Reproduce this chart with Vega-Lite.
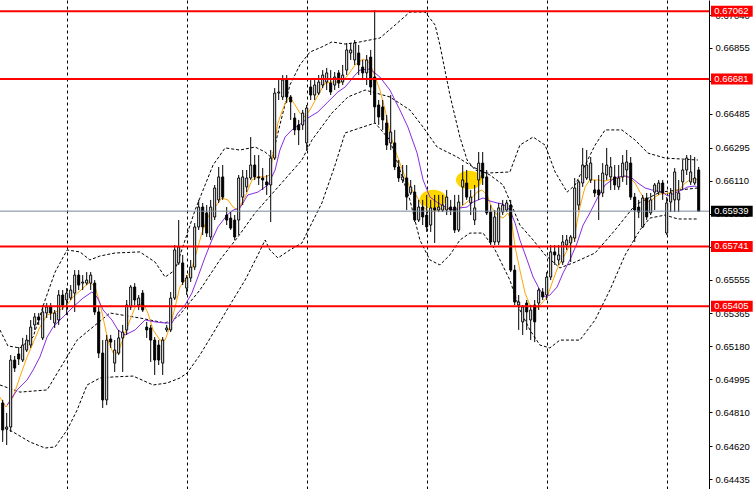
{
"$schema":"https://vega.github.io/schema/vega-lite/v6.json",
"width":709,"height":489,
"autosize":{"type":"none"},
"padding":{"left":0,"top":0,"right":46,"bottom":0},
"background":"white",
"config":{"view":{"stroke":null},"axis":{"labelOverlap":false,"labelBound":false,"labelFlush":false}},
"resolve":{"axis":{"x":"independent","y":"independent"}},
"datasets":{
"candles":[
{"i":0,"o":0.64862,"h":0.64879,"l":0.64643,"c":0.64710},
{"i":1,"o":0.64716,"h":0.64806,"l":0.64626,"c":0.64727},
{"i":2,"o":0.64727,"h":0.65131,"l":0.64699,"c":0.65103},
{"i":3,"o":0.65103,"h":0.65126,"l":0.65036,"c":0.65058},
{"i":4,"o":0.65137,"h":0.65176,"l":0.65075,"c":0.65109},
{"i":5,"o":0.65103,"h":0.65227,"l":0.65092,"c":0.65187},
{"i":6,"o":0.65159,"h":0.65244,"l":0.65148,"c":0.65215},
{"i":7,"o":0.65187,"h":0.65328,"l":0.65171,"c":0.65288},
{"i":8,"o":0.65300,"h":0.65367,"l":0.65272,"c":0.65345},
{"i":9,"o":0.65345,"h":0.65367,"l":0.65300,"c":0.65328},
{"i":10,"o":0.65227,"h":0.65412,"l":0.65215,"c":0.65373},
{"i":11,"o":0.65367,"h":0.65423,"l":0.65339,"c":0.65401},
{"i":12,"o":0.65401,"h":0.65423,"l":0.65328,"c":0.65367},
{"i":13,"o":0.65311,"h":0.65384,"l":0.65283,"c":0.65367},
{"i":14,"o":0.65328,"h":0.65496,"l":0.65300,"c":0.65468},
{"i":15,"o":0.65468,"h":0.65496,"l":0.65384,"c":0.65412},
{"i":16,"o":0.65440,"h":0.65507,"l":0.65356,"c":0.65479},
{"i":17,"o":0.65451,"h":0.65524,"l":0.65440,"c":0.65496},
{"i":18,"o":0.65479,"h":0.65608,"l":0.65373,"c":0.65580},
{"i":19,"o":0.65580,"h":0.65608,"l":0.65496,"c":0.65524},
{"i":20,"o":0.65535,"h":0.65580,"l":0.65496,"c":0.65541},
{"i":21,"o":0.65535,"h":0.65597,"l":0.65524,"c":0.65552},
{"i":22,"o":0.65535,"h":0.65597,"l":0.65496,"c":0.65580},
{"i":23,"o":0.65535,"h":0.65552,"l":0.65356,"c":0.65373},
{"i":24,"o":0.65373,"h":0.65401,"l":0.65114,"c":0.65142},
{"i":25,"o":0.65142,"h":0.65215,"l":0.64834,"c":0.64879},
{"i":26,"o":0.64879,"h":0.65244,"l":0.64850,"c":0.65215},
{"i":27,"o":0.65221,"h":0.65244,"l":0.65171,"c":0.65204},
{"i":28,"o":0.65086,"h":0.65215,"l":0.65036,"c":0.65159},
{"i":29,"o":0.65142,"h":0.65272,"l":0.65131,"c":0.65227},
{"i":30,"o":0.65227,"h":0.65300,"l":0.65036,"c":0.65260},
{"i":31,"o":0.65272,"h":0.65440,"l":0.65244,"c":0.65412},
{"i":32,"o":0.65401,"h":0.65524,"l":0.65384,"c":0.65513},
{"i":33,"o":0.65513,"h":0.65535,"l":0.65412,"c":0.65440},
{"i":34,"o":0.65412,"h":0.65468,"l":0.65384,"c":0.65451},
{"i":35,"o":0.65479,"h":0.65496,"l":0.65373,"c":0.65384},
{"i":36,"o":0.65288,"h":0.65317,"l":0.65227,"c":0.65272},
{"i":37,"o":0.65283,"h":0.65300,"l":0.65092,"c":0.65215},
{"i":38,"o":0.65215,"h":0.65232,"l":0.65019,"c":0.65103},
{"i":39,"o":0.65187,"h":0.65215,"l":0.65075,"c":0.65103},
{"i":40,"o":0.65086,"h":0.65232,"l":0.65019,"c":0.65215},
{"i":41,"o":0.65272,"h":0.65300,"l":0.65260,"c":0.65283},
{"i":42,"o":0.65272,"h":0.65485,"l":0.65260,"c":0.65451},
{"i":43,"o":0.65451,"h":0.65749,"l":0.65440,"c":0.65721},
{"i":44,"o":0.65648,"h":0.65889,"l":0.65637,"c":0.65738},
{"i":45,"o":0.65648,"h":0.65693,"l":0.65524,"c":0.65541},
{"i":46,"o":0.65507,"h":0.65580,"l":0.65468,"c":0.65564},
{"i":47,"o":0.65564,"h":0.65665,"l":0.65541,"c":0.65625},
{"i":48,"o":0.65625,"h":0.65872,"l":0.65608,"c":0.65850},
{"i":49,"o":0.65850,"h":0.66002,"l":0.65833,"c":0.65962},
{"i":50,"o":0.65962,"h":0.65985,"l":0.65805,"c":0.65850},
{"i":51,"o":0.65929,"h":0.65973,"l":0.65794,"c":0.65816},
{"i":52,"o":0.65794,"h":0.66002,"l":0.65777,"c":0.65962},
{"i":53,"o":0.65906,"h":0.66086,"l":0.65889,"c":0.66069},
{"i":54,"o":0.66002,"h":0.66187,"l":0.65985,"c":0.66131},
{"i":55,"o":0.66131,"h":0.66198,"l":0.66002,"c":0.66018},
{"i":56,"o":0.65917,"h":0.65962,"l":0.65861,"c":0.65889},
{"i":57,"o":0.65900,"h":0.65934,"l":0.65833,"c":0.65844},
{"i":58,"o":0.65889,"h":0.65917,"l":0.65777,"c":0.65794},
{"i":59,"o":0.65889,"h":0.66142,"l":0.65805,"c":0.66125},
{"i":60,"o":0.66018,"h":0.66170,"l":0.65973,"c":0.66131},
{"i":61,"o":0.66075,"h":0.66170,"l":0.66046,"c":0.66125},
{"i":62,"o":0.66125,"h":0.66355,"l":0.66114,"c":0.66198},
{"i":63,"o":0.66198,"h":0.66254,"l":0.66114,"c":0.66131},
{"i":64,"o":0.66131,"h":0.66254,"l":0.66086,"c":0.66125},
{"i":65,"o":0.66125,"h":0.66181,"l":0.66058,"c":0.66114},
{"i":66,"o":0.66103,"h":0.66142,"l":0.66030,"c":0.66086},
{"i":67,"o":0.66086,"h":0.66282,"l":0.65878,"c":0.66237},
{"i":68,"o":0.66237,"h":0.66630,"l":0.66226,"c":0.66602},
{"i":69,"o":0.66602,"h":0.66675,"l":0.66563,"c":0.66608},
{"i":70,"o":0.66580,"h":0.66703,"l":0.66563,"c":0.66675},
{"i":71,"o":0.66675,"h":0.66703,"l":0.66546,"c":0.66580},
{"i":72,"o":0.66580,"h":0.66591,"l":0.66451,"c":0.66552},
{"i":73,"o":0.66462,"h":0.66490,"l":0.66366,"c":0.66395},
{"i":74,"o":0.66423,"h":0.66451,"l":0.66310,"c":0.66395},
{"i":75,"o":0.66423,"h":0.66507,"l":0.66395,"c":0.66490},
{"i":76,"o":0.66322,"h":0.66535,"l":0.66282,"c":0.66518},
{"i":77,"o":0.66636,"h":0.66675,"l":0.66563,"c":0.66591},
{"i":78,"o":0.66591,"h":0.66675,"l":0.66563,"c":0.66647},
{"i":79,"o":0.66602,"h":0.66703,"l":0.66591,"c":0.66664},
{"i":80,"o":0.66647,"h":0.66731,"l":0.66630,"c":0.66703},
{"i":81,"o":0.66664,"h":0.66743,"l":0.66619,"c":0.66715},
{"i":82,"o":0.66658,"h":0.66731,"l":0.66591,"c":0.66608},
{"i":83,"o":0.66647,"h":0.66720,"l":0.66619,"c":0.66692},
{"i":84,"o":0.66715,"h":0.66731,"l":0.66630,"c":0.66658},
{"i":85,"o":0.66664,"h":0.66760,"l":0.66647,"c":0.66703},
{"i":86,"o":0.66731,"h":0.66883,"l":0.66703,"c":0.66844},
{"i":87,"o":0.66827,"h":0.66883,"l":0.66788,"c":0.66844},
{"i":88,"o":0.66788,"h":0.66900,"l":0.66760,"c":0.66883},
{"i":89,"o":0.66827,"h":0.66872,"l":0.66703,"c":0.66760},
{"i":90,"o":0.66748,"h":0.66788,"l":0.66675,"c":0.66715},
{"i":91,"o":0.66715,"h":0.66816,"l":0.66647,"c":0.66788},
{"i":92,"o":0.66804,"h":0.66844,"l":0.66591,"c":0.66636},
{"i":93,"o":0.66692,"h":0.67068,"l":0.66434,"c":0.66524},
{"i":94,"o":0.66535,"h":0.66563,"l":0.66423,"c":0.66468},
{"i":95,"o":0.66524,"h":0.66563,"l":0.66395,"c":0.66451},
{"i":96,"o":0.66434,"h":0.66479,"l":0.66282,"c":0.66310},
{"i":97,"o":0.66322,"h":0.66591,"l":0.66282,"c":0.66383},
{"i":98,"o":0.66322,"h":0.66395,"l":0.66170,"c":0.66187},
{"i":99,"o":0.66187,"h":0.66226,"l":0.66103,"c":0.66125},
{"i":100,"o":0.66114,"h":0.66198,"l":0.66097,"c":0.66131},
{"i":101,"o":0.66125,"h":0.66198,"l":0.65945,"c":0.66018},
{"i":102,"o":0.66041,"h":0.66114,"l":0.66030,"c":0.66075},
{"i":103,"o":0.66046,"h":0.66086,"l":0.65878,"c":0.65889},
{"i":104,"o":0.65889,"h":0.66002,"l":0.65878,"c":0.65962},
{"i":105,"o":0.65962,"h":0.66002,"l":0.65861,"c":0.65906},
{"i":106,"o":0.65917,"h":0.66030,"l":0.65822,"c":0.65850},
{"i":107,"o":0.65861,"h":0.66002,"l":0.65822,"c":0.65957},
{"i":108,"o":0.65957,"h":0.66030,"l":0.65760,"c":0.65945},
{"i":109,"o":0.65945,"h":0.66030,"l":0.65934,"c":0.65962},
{"i":110,"o":0.65945,"h":0.66030,"l":0.65934,"c":0.65973},
{"i":111,"o":0.65945,"h":0.66058,"l":0.65917,"c":0.66018},
{"i":112,"o":0.65962,"h":0.66002,"l":0.65917,"c":0.65945},
{"i":113,"o":0.65962,"h":0.66030,"l":0.65816,"c":0.65833},
{"i":114,"o":0.65833,"h":0.66030,"l":0.65822,"c":0.65990},
{"i":115,"o":0.66075,"h":0.66198,"l":0.65973,"c":0.66114},
{"i":116,"o":0.66097,"h":0.66170,"l":0.66002,"c":0.66018},
{"i":117,"o":0.65985,"h":0.66058,"l":0.65917,"c":0.66018},
{"i":118,"o":0.65889,"h":0.66086,"l":0.65861,"c":0.65957},
{"i":119,"o":0.66114,"h":0.66271,"l":0.66002,"c":0.66209},
{"i":120,"o":0.66209,"h":0.66271,"l":0.66086,"c":0.66125},
{"i":121,"o":0.66131,"h":0.66170,"l":0.65917,"c":0.65929},
{"i":122,"o":0.65934,"h":0.65973,"l":0.65749,"c":0.65766},
{"i":123,"o":0.65766,"h":0.65945,"l":0.65749,"c":0.65906},
{"i":124,"o":0.65766,"h":0.65985,"l":0.65749,"c":0.65957},
{"i":125,"o":0.65934,"h":0.66002,"l":0.65917,"c":0.65973},
{"i":126,"o":0.65945,"h":0.66002,"l":0.65934,"c":0.65985},
{"i":127,"o":0.65973,"h":0.66002,"l":0.65597,"c":0.65608},
{"i":128,"o":0.65608,"h":0.65637,"l":0.65412,"c":0.65429},
{"i":129,"o":0.65412,"h":0.65468,"l":0.65272,"c":0.65429},
{"i":130,"o":0.65317,"h":0.65412,"l":0.65244,"c":0.65401},
{"i":131,"o":0.65423,"h":0.65440,"l":0.65272,"c":0.65373},
{"i":132,"o":0.65328,"h":0.65412,"l":0.65215,"c":0.65384},
{"i":133,"o":0.65412,"h":0.65440,"l":0.65204,"c":0.65317},
{"i":134,"o":0.65423,"h":0.65507,"l":0.65384,"c":0.65496},
{"i":135,"o":0.65485,"h":0.65507,"l":0.65440,"c":0.65457},
{"i":136,"o":0.65468,"h":0.65597,"l":0.65440,"c":0.65569},
{"i":137,"o":0.65569,"h":0.65749,"l":0.65552,"c":0.65710},
{"i":138,"o":0.65710,"h":0.65749,"l":0.65637,"c":0.65693},
{"i":139,"o":0.65665,"h":0.65749,"l":0.65637,"c":0.65693},
{"i":140,"o":0.65653,"h":0.65805,"l":0.65637,"c":0.65766},
{"i":141,"o":0.65749,"h":0.65805,"l":0.65721,"c":0.65777},
{"i":142,"o":0.65760,"h":0.65805,"l":0.65653,"c":0.65794},
{"i":143,"o":0.65788,"h":0.66125,"l":0.65766,"c":0.66069},
{"i":144,"o":0.65973,"h":0.66114,"l":0.65945,"c":0.66103},
{"i":145,"o":0.66097,"h":0.66294,"l":0.66075,"c":0.66198},
{"i":146,"o":0.66125,"h":0.66282,"l":0.66114,"c":0.66198},
{"i":147,"o":0.66114,"h":0.66243,"l":0.66097,"c":0.66209},
{"i":148,"o":0.66058,"h":0.66114,"l":0.66018,"c":0.66041},
{"i":149,"o":0.66058,"h":0.66142,"l":0.65889,"c":0.66030},
{"i":150,"o":0.66041,"h":0.66209,"l":0.66018,"c":0.66153},
{"i":151,"o":0.66142,"h":0.66294,"l":0.66114,"c":0.66198},
{"i":152,"o":0.66131,"h":0.66243,"l":0.66058,"c":0.66187},
{"i":153,"o":0.66131,"h":0.66198,"l":0.66058,"c":0.66086},
{"i":154,"o":0.66075,"h":0.66198,"l":0.66058,"c":0.66125},
{"i":155,"o":0.66131,"h":0.66254,"l":0.66103,"c":0.66209},
{"i":156,"o":0.66170,"h":0.66282,"l":0.66086,"c":0.66215},
{"i":157,"o":0.66209,"h":0.66243,"l":0.66002,"c":0.66018},
{"i":158,"o":0.66018,"h":0.66041,"l":0.65766,"c":0.65945},
{"i":159,"o":0.65962,"h":0.66002,"l":0.65900,"c":0.65934},
{"i":160,"o":0.65850,"h":0.66030,"l":0.65844,"c":0.66013},
{"i":161,"o":0.66013,"h":0.66041,"l":0.65889,"c":0.65906},
{"i":162,"o":0.65929,"h":0.66041,"l":0.65917,"c":0.66002},
{"i":163,"o":0.66046,"h":0.66097,"l":0.65945,"c":0.66086},
{"i":164,"o":0.66046,"h":0.66114,"l":0.66030,"c":0.66097},
{"i":165,"o":0.66097,"h":0.66114,"l":0.66002,"c":0.66041},
{"i":166,"o":0.65816,"h":0.66018,"l":0.65805,"c":0.65985},
{"i":167,"o":0.65990,"h":0.66069,"l":0.65934,"c":0.66041},
{"i":168,"o":0.66002,"h":0.66181,"l":0.65934,"c":0.66159},
{"i":169,"o":0.66002,"h":0.66114,"l":0.65934,"c":0.66041},
{"i":170,"o":0.66103,"h":0.66226,"l":0.66058,"c":0.66170},
{"i":171,"o":0.66170,"h":0.66254,"l":0.66142,"c":0.66237},
{"i":172,"o":0.66103,"h":0.66254,"l":0.66086,"c":0.66159},
{"i":173,"o":0.66097,"h":0.66243,"l":0.66086,"c":0.66125},
{"i":174,"o":0.66170,"h":0.66187,"l":0.65939,"c":0.65939}
],
"lines":[
{"s":"fast","i":-0.7,"p":0.64895},{"s":"fast","i":0.8,"p":0.64839},{"s":"fast","i":2.6,"p":0.64895},{"s":"fast","i":4.3,"p":0.65008},{"s":"fast","i":6.1,"p":0.65120},{"s":"fast","i":7.6,"p":0.65199},{"s":"fast","i":9.3,"p":0.65288},{"s":"fast","i":11.1,"p":0.65356},{"s":"fast","i":12.6,"p":0.65367},{"s":"fast","i":14.3,"p":0.65384},{"s":"fast","i":16.1,"p":0.65412},{"s":"fast","i":17.6,"p":0.65457},{"s":"fast","i":20.1,"p":0.65507},{"s":"fast","i":21.8,"p":0.65541},{"s":"fast","i":23.1,"p":0.65513},{"s":"fast","i":24.3,"p":0.65423},{"s":"fast","i":25.6,"p":0.65288},{"s":"fast","i":26.3,"p":0.65215},{"s":"fast","i":27.6,"p":0.65142},{"s":"fast","i":28.8,"p":0.65142},{"s":"fast","i":30.6,"p":0.65255},{"s":"fast","i":33.1,"p":0.65401},{"s":"fast","i":35.1,"p":0.65423},{"s":"fast","i":36.3,"p":0.65367},{"s":"fast","i":37.6,"p":0.65272},{"s":"fast","i":39.3,"p":0.65215},{"s":"fast","i":40.6,"p":0.65215},{"s":"fast","i":41.8,"p":0.65288},{"s":"fast","i":43.1,"p":0.65401},{"s":"fast","i":44.3,"p":0.65513},{"s":"fast","i":46.1,"p":0.65569},{"s":"fast","i":47.3,"p":0.65620},{"s":"fast","i":48.6,"p":0.65721},{"s":"fast","i":49.8,"p":0.65816},{"s":"fast","i":51.3,"p":0.65906},{"s":"fast","i":53.1,"p":0.65962},{"s":"fast","i":54.8,"p":0.66013},{"s":"fast","i":56.3,"p":0.66002},{"s":"fast","i":57.6,"p":0.65962},{"s":"fast","i":58.8,"p":0.65945},{"s":"fast","i":60.6,"p":0.66018},{"s":"fast","i":62.3,"p":0.66114},{"s":"fast","i":63.8,"p":0.66131},{"s":"fast","i":65.6,"p":0.66131},{"s":"fast","i":66.8,"p":0.66142},{"s":"fast","i":67.6,"p":0.66265},{"s":"fast","i":68.8,"p":0.66434},{"s":"fast","i":70.6,"p":0.66546},{"s":"fast","i":71.8,"p":0.66580},{"s":"fast","i":73.1,"p":0.66535},{"s":"fast","i":74.3,"p":0.66490},{"s":"fast","i":75.6,"p":0.66468},{"s":"fast","i":76.8,"p":0.66507},{"s":"fast","i":78.6,"p":0.66580},{"s":"fast","i":80.6,"p":0.66658},{"s":"fast","i":82.3,"p":0.66664},{"s":"fast","i":84.8,"p":0.66664},{"s":"fast","i":86.3,"p":0.66703},{"s":"fast","i":88.1,"p":0.66760},{"s":"fast","i":90.1,"p":0.66793},{"s":"fast","i":91.8,"p":0.66771},{"s":"fast","i":93.1,"p":0.66692},{"s":"fast","i":94.3,"p":0.66619},{"s":"fast","i":95.6,"p":0.66507},{"s":"fast","i":96.8,"p":0.66378},{"s":"fast","i":98.1,"p":0.66282},{"s":"fast","i":99.3,"p":0.66209},{"s":"fast","i":100.6,"p":0.66131},{"s":"fast","i":101.8,"p":0.66075},{"s":"fast","i":103.6,"p":0.66018},{"s":"fast","i":105.1,"p":0.65962},{"s":"fast","i":106.8,"p":0.65934},{"s":"fast","i":108.6,"p":0.65945},{"s":"fast","i":110.1,"p":0.65957},{"s":"fast","i":111.8,"p":0.65951},{"s":"fast","i":113.6,"p":0.65945},{"s":"fast","i":115.1,"p":0.65973},{"s":"fast","i":116.8,"p":0.66002},{"s":"fast","i":118.6,"p":0.66046},{"s":"fast","i":119.8,"p":0.66058},{"s":"fast","i":121.1,"p":0.66030},{"s":"fast","i":122.3,"p":0.65957},{"s":"fast","i":123.6,"p":0.65917},{"s":"fast","i":125.1,"p":0.65900},{"s":"fast","i":126.3,"p":0.65929},{"s":"fast","i":127.3,"p":0.65872},{"s":"fast","i":128.1,"p":0.65738},{"s":"fast","i":129.3,"p":0.65608},{"s":"fast","i":130.6,"p":0.65479},{"s":"fast","i":131.8,"p":0.65412},{"s":"fast","i":133.6,"p":0.65395},{"s":"fast","i":134.8,"p":0.65423},{"s":"fast","i":136.1,"p":0.65457},{"s":"fast","i":137.6,"p":0.65552},{"s":"fast","i":138.8,"p":0.65625},{"s":"fast","i":140.1,"p":0.65676},{"s":"fast","i":141.8,"p":0.65749},{"s":"fast","i":143.1,"p":0.65816},{"s":"fast","i":144.3,"p":0.65962},{"s":"fast","i":145.6,"p":0.66075},{"s":"fast","i":146.8,"p":0.66114},{"s":"fast","i":148.8,"p":0.66114},{"s":"fast","i":150.6,"p":0.66108},{"s":"fast","i":152.3,"p":0.66119},{"s":"fast","i":153.8,"p":0.66125},{"s":"fast","i":155.6,"p":0.66136},{"s":"fast","i":156.8,"p":0.66125},{"s":"fast","i":158.1,"p":0.66097},{"s":"fast","i":159.3,"p":0.66046},{"s":"fast","i":160.6,"p":0.66002},{"s":"fast","i":161.8,"p":0.65990},{"s":"fast","i":163.1,"p":0.66018},{"s":"fast","i":164.3,"p":0.66035},{"s":"fast","i":166.8,"p":0.66041},{"s":"fast","i":169.3,"p":0.66063},{"s":"fast","i":170.6,"p":0.66097},{"s":"fast","i":171.8,"p":0.66114},{"s":"fast","i":173.1,"p":0.66125},{"s":"fast","i":173.8,"p":0.66108},
{"s":"slow","i":1.1,"p":0.64850},{"s":"slow","i":3.6,"p":0.64935},{"s":"slow","i":6.1,"p":0.64991},{"s":"slow","i":7.6,"p":0.65047},{"s":"slow","i":9.3,"p":0.65120},{"s":"slow","i":11.1,"p":0.65232},{"s":"slow","i":12.6,"p":0.65288},{"s":"slow","i":15.1,"p":0.65345},{"s":"slow","i":17.6,"p":0.65401},{"s":"slow","i":20.1,"p":0.65451},{"s":"slow","i":22.3,"p":0.65485},{"s":"slow","i":23.6,"p":0.65457},{"s":"slow","i":25.1,"p":0.65384},{"s":"slow","i":27.3,"p":0.65328},{"s":"slow","i":28.8,"p":0.65272},{"s":"slow","i":30.6,"p":0.65244},{"s":"slow","i":33.1,"p":0.65272},{"s":"slow","i":35.6,"p":0.65328},{"s":"slow","i":38.1,"p":0.65317},{"s":"slow","i":40.6,"p":0.65311},{"s":"slow","i":42.3,"p":0.65311},{"s":"slow","i":43.8,"p":0.65367},{"s":"slow","i":45.6,"p":0.65412},{"s":"slow","i":47.3,"p":0.65479},{"s":"slow","i":48.8,"p":0.65569},{"s":"slow","i":50.6,"p":0.65681},{"s":"slow","i":52.3,"p":0.65777},{"s":"slow","i":53.8,"p":0.65850},{"s":"slow","i":56.1,"p":0.65917},{"s":"slow","i":57.6,"p":0.65945},{"s":"slow","i":59.3,"p":0.65957},{"s":"slow","i":61.3,"p":0.66030},{"s":"slow","i":63.8,"p":0.66046},{"s":"slow","i":66.3,"p":0.66086},{"s":"slow","i":68.1,"p":0.66170},{"s":"slow","i":69.3,"p":0.66282},{"s":"slow","i":70.6,"p":0.66355},{"s":"slow","i":72.3,"p":0.66395},{"s":"slow","i":74.8,"p":0.66434},{"s":"slow","i":76.3,"p":0.66462},{"s":"slow","i":78.8,"p":0.66496},{"s":"slow","i":81.3,"p":0.66552},{"s":"slow","i":83.8,"p":0.66608},{"s":"slow","i":85.6,"p":0.66636},{"s":"slow","i":88.1,"p":0.66703},{"s":"slow","i":89.3,"p":0.66731},{"s":"slow","i":91.8,"p":0.66737},{"s":"slow","i":94.3,"p":0.66692},{"s":"slow","i":96.8,"p":0.66619},{"s":"slow","i":99.3,"p":0.66507},{"s":"slow","i":101.3,"p":0.66411},{"s":"slow","i":103.6,"p":0.66265},{"s":"slow","i":105.1,"p":0.66114},{"s":"slow","i":106.8,"p":0.66018},{"s":"slow","i":108.8,"p":0.65985},{"s":"slow","i":111.1,"p":0.65957},{"s":"slow","i":112.6,"p":0.65945},{"s":"slow","i":114.3,"p":0.65957},{"s":"slow","i":116.1,"p":0.65962},{"s":"slow","i":117.6,"p":0.65990},{"s":"slow","i":120.1,"p":0.66013},{"s":"slow","i":121.8,"p":0.65996},{"s":"slow","i":123.6,"p":0.65985},{"s":"slow","i":125.1,"p":0.65979},{"s":"slow","i":126.8,"p":0.65945},{"s":"slow","i":128.1,"p":0.65872},{"s":"slow","i":129.3,"p":0.65777},{"s":"slow","i":131.1,"p":0.65665},{"s":"slow","i":132.6,"p":0.65569},{"s":"slow","i":134.3,"p":0.65496},{"s":"slow","i":135.6,"p":0.65457},{"s":"slow","i":136.8,"p":0.65468},{"s":"slow","i":138.6,"p":0.65513},{"s":"slow","i":140.1,"p":0.65592},{"s":"slow","i":141.8,"p":0.65665},{"s":"slow","i":143.6,"p":0.65760},{"s":"slow","i":145.1,"p":0.65861},{"s":"slow","i":146.8,"p":0.65929},{"s":"slow","i":148.8,"p":0.66018},{"s":"slow","i":150.6,"p":0.66086},{"s":"slow","i":152.3,"p":0.66114},{"s":"slow","i":153.8,"p":0.66131},{"s":"slow","i":155.6,"p":0.66136},{"s":"slow","i":157.3,"p":0.66125},{"s":"slow","i":158.8,"p":0.66097},{"s":"slow","i":160.6,"p":0.66069},{"s":"slow","i":162.3,"p":0.66058},{"s":"slow","i":164.8,"p":0.66046},{"s":"slow","i":166.3,"p":0.66024},{"s":"slow","i":168.1,"p":0.66041},{"s":"slow","i":169.8,"p":0.66058},{"s":"slow","i":171.3,"p":0.66075},{"s":"slow","i":173.1,"p":0.66080},{"s":"slow","i":173.8,"p":0.66069},
{"s":"upper","i":-0.7,"p":0.65272},{"s":"upper","i":1.3,"p":0.65182},{"s":"upper","i":4.3,"p":0.65171},{"s":"upper","i":7.6,"p":0.65232},{"s":"upper","i":10.6,"p":0.65440},{"s":"upper","i":13.1,"p":0.65597},{"s":"upper","i":16.1,"p":0.65721},{"s":"upper","i":19.3,"p":0.65710},{"s":"upper","i":21.8,"p":0.65665},{"s":"upper","i":24.3,"p":0.65687},{"s":"upper","i":28.1,"p":0.65704},{"s":"upper","i":34.3,"p":0.65710},{"s":"upper","i":38.1,"p":0.65653},{"s":"upper","i":40.6,"p":0.65569},{"s":"upper","i":43.1,"p":0.65608},{"s":"upper","i":45.6,"p":0.65777},{"s":"upper","i":48.1,"p":0.65945},{"s":"upper","i":50.6,"p":0.66086},{"s":"upper","i":52.6,"p":0.66198},{"s":"upper","i":55.6,"p":0.66294},{"s":"upper","i":59.3,"p":0.66282},{"s":"upper","i":63.1,"p":0.66299},{"s":"upper","i":65.6,"p":0.66271},{"s":"upper","i":67.3,"p":0.66237},{"s":"upper","i":69.3,"p":0.66423},{"s":"upper","i":71.8,"p":0.66647},{"s":"upper","i":74.3,"p":0.66760},{"s":"upper","i":76.8,"p":0.66832},{"s":"upper","i":79.8,"p":0.66861},{"s":"upper","i":82.3,"p":0.66889},{"s":"upper","i":85.6,"p":0.66877},{"s":"upper","i":89.3,"p":0.66889},{"s":"upper","i":94.3,"p":0.66911},{"s":"upper","i":98.1,"p":0.66984},{"s":"upper","i":101.8,"p":0.67057},{"s":"upper","i":105.6,"p":0.67057},{"s":"upper","i":108.1,"p":0.66984},{"s":"upper","i":109.3,"p":0.66872},{"s":"upper","i":111.8,"p":0.66591},{"s":"upper","i":114.3,"p":0.66355},{"s":"upper","i":116.1,"p":0.66226},{"s":"upper","i":118.1,"p":0.66170},{"s":"upper","i":121.1,"p":0.66153},{"s":"upper","i":126.8,"p":0.66159},{"s":"upper","i":129.3,"p":0.66310},{"s":"upper","i":132.6,"p":0.66355},{"s":"upper","i":135.6,"p":0.66310},{"s":"upper","i":138.1,"p":0.66159},{"s":"upper","i":141.1,"p":0.66046},{"s":"upper","i":143.1,"p":0.66086},{"s":"upper","i":148.1,"p":0.66310},{"s":"upper","i":150.6,"p":0.66395},{"s":"upper","i":154.8,"p":0.66395},{"s":"upper","i":158.1,"p":0.66338},{"s":"upper","i":161.3,"p":0.66265},{"s":"upper","i":165.6,"p":0.66237},{"s":"upper","i":173.8,"p":0.66226},
{"s":"middle","i":-0.7,"p":0.64963},{"s":"middle","i":4.3,"p":0.64923},{"s":"middle","i":11.1,"p":0.64935},{"s":"middle","i":18.6,"p":0.65215},{"s":"middle","i":26.8,"p":0.65367},{"s":"middle","i":34.3,"p":0.65339},{"s":"middle","i":40.6,"p":0.65311},{"s":"middle","i":43.8,"p":0.65345},{"s":"middle","i":49.3,"p":0.65496},{"s":"middle","i":54.3,"p":0.65665},{"s":"middle","i":58.8,"p":0.65794},{"s":"middle","i":63.1,"p":0.65929},{"s":"middle","i":69.3,"p":0.66086},{"s":"middle","i":74.8,"p":0.66226},{"s":"middle","i":77.3,"p":0.66338},{"s":"middle","i":82.3,"p":0.66490},{"s":"middle","i":86.3,"p":0.66580},{"s":"middle","i":90.6,"p":0.66619},{"s":"middle","i":96.8,"p":0.66580},{"s":"middle","i":101.8,"p":0.66507},{"s":"middle","i":105.1,"p":0.66411},{"s":"middle","i":108.6,"p":0.66299},{"s":"middle","i":113.6,"p":0.66243},{"s":"middle","i":117.6,"p":0.66187},{"s":"middle","i":121.8,"p":0.66142},{"s":"middle","i":125.1,"p":0.66086},{"s":"middle","i":129.3,"p":0.65861},{"s":"middle","i":132.6,"p":0.65777},{"s":"middle","i":135.6,"p":0.65693},{"s":"middle","i":139.3,"p":0.65620},{"s":"middle","i":143.1,"p":0.65653},{"s":"middle","i":148.1,"p":0.65704},{"s":"middle","i":153.1,"p":0.65833},{"s":"middle","i":158.1,"p":0.65973},{"s":"middle","i":164.3,"p":0.66046},{"s":"middle","i":173.8,"p":0.66069},
{"s":"lower","i":0.6,"p":0.64721},{"s":"lower","i":2.6,"p":0.64699},{"s":"lower","i":6.8,"p":0.64643},{"s":"lower","i":10.6,"p":0.64609},{"s":"lower","i":13.1,"p":0.64615},{"s":"lower","i":16.1,"p":0.64710},{"s":"lower","i":18.6,"p":0.64822},{"s":"lower","i":21.1,"p":0.64963},{"s":"lower","i":24.3,"p":0.65002},{"s":"lower","i":27.6,"p":0.65008},{"s":"lower","i":32.6,"p":0.65013},{"s":"lower","i":37.6,"p":0.64963},{"s":"lower","i":41.1,"p":0.64974},{"s":"lower","i":44.3,"p":0.65002},{"s":"lower","i":46.1,"p":0.65030},{"s":"lower","i":49.3,"p":0.65131},{"s":"lower","i":53.1,"p":0.65272},{"s":"lower","i":56.8,"p":0.65412},{"s":"lower","i":60.6,"p":0.65552},{"s":"lower","i":63.8,"p":0.65693},{"s":"lower","i":65.6,"p":0.65777},{"s":"lower","i":66.8,"p":0.65721},{"s":"lower","i":68.8,"p":0.65676},{"s":"lower","i":71.8,"p":0.65721},{"s":"lower","i":74.8,"p":0.65760},{"s":"lower","i":79.8,"p":0.65985},{"s":"lower","i":83.1,"p":0.66198},{"s":"lower","i":85.6,"p":0.66378},{"s":"lower","i":89.3,"p":0.66406},{"s":"lower","i":93.1,"p":0.66434},{"s":"lower","i":96.8,"p":0.66338},{"s":"lower","i":99.3,"p":0.66170},{"s":"lower","i":101.8,"p":0.66002},{"s":"lower","i":104.3,"p":0.65777},{"s":"lower","i":106.8,"p":0.65665},{"s":"lower","i":109.3,"p":0.65637},{"s":"lower","i":111.8,"p":0.65693},{"s":"lower","i":114.3,"p":0.65777},{"s":"lower","i":116.8,"p":0.65816},{"s":"lower","i":120.1,"p":0.65816},{"s":"lower","i":123.1,"p":0.65721},{"s":"lower","i":126.8,"p":0.65552},{"s":"lower","i":129.3,"p":0.65384},{"s":"lower","i":131.8,"p":0.65272},{"s":"lower","i":134.3,"p":0.65187},{"s":"lower","i":136.8,"p":0.65171},{"s":"lower","i":139.3,"p":0.65215},{"s":"lower","i":144.3,"p":0.65215},{"s":"lower","i":148.1,"p":0.65328},{"s":"lower","i":151.8,"p":0.65496},{"s":"lower","i":155.6,"p":0.65693},{"s":"lower","i":159.3,"p":0.65833},{"s":"lower","i":161.8,"p":0.65900},{"s":"lower","i":165.6,"p":0.65917},{"s":"lower","i":168.8,"p":0.65895},{"s":"lower","i":173.8,"p":0.65895}
],
"levels":[
{"p":0.67062,"kind":"red","label":"0.67062"},
{"p":0.66681,"kind":"red","label":"0.66681"},
{"p":0.65741,"kind":"red","label":"0.65741"},
{"p":0.65405,"kind":"red","label":"0.65405"},
{"p":0.65939,"kind":"last","label":"0.65939"}
],
"blobs":[
{"i":107.6,"p":0.66007},
{"i":116.6,"p":0.66114}
]
},
"layer":[
{"data":{"name":"blobs"},
 "mark":{"type":"point","filled":true,"opacity":1,"color":"#FFD700","shape":"M-1,0A1,0.7,0,1,1,1,0A1,0.7,0,1,1,-1,0Z","size":700},
 "encoding":{
  "x":{"field":"i","type":"quantitative","scale":{"domain":[-0.675,176.575],"nice":false,"zero":false,"padding":0},
       "axis":{"values":[16,46,76,106,136,166],"grid":true,"gridColor":"black","gridDash":[3,3],"gridWidth":1,"gridOpacity":1,"labels":false,"ticks":false,"domain":false,"title":null}},
  "y":{"field":"p","type":"quantitative","scale":{"domain":[0.643789,0.671245],"nice":false,"zero":false,"padding":0},
       "axis":{"orient":"right","values":[0.6704,0.66855,0.6667,0.66485,0.66295,0.6611,0.65925,0.6574,0.65555,0.65365,0.6518,0.64995,0.6481,0.6462,0.64435],
       "format":".5f","grid":false,"labelOverlap":false,"labelBound":false,"labelFlush":false,"domainColor":"black","tickColor":"black","tickSize":3,"labelPadding":3,"labelFont":"Liberation Sans","labelFontSize":9.5,"labelColor":"black","title":null}}
 }},
{"data":{"name":"lines"},
 "transform":[{"filter":"datum.s=='upper'||datum.s=='middle'||datum.s=='lower'"}],
 "mark":{"type":"line","color":"black","strokeWidth":1,"strokeDash":[3,2],"clip":true},
 "encoding":{"x":{"field":"i","type":"quantitative","axis":null},"y":{"field":"p","type":"quantitative","axis":null},"detail":{"field":"s"}}},
{"data":{"name":"lines"},
 "transform":[{"filter":"datum.s=='fast'||datum.s=='slow'"}],
 "mark":{"type":"line","strokeWidth":1,"clip":true},
 "encoding":{"x":{"field":"i","type":"quantitative","axis":null},"y":{"field":"p","type":"quantitative","axis":null},
  "color":{"field":"s","type":"nominal","scale":{"domain":["fast","slow"],"range":["#FFA500","#8A2BE2"]},"legend":null}}},
{"data":{"name":"candles"},
 "mark":{"type":"rule","color":"black","strokeWidth":1},
 "encoding":{"x":{"field":"i","type":"quantitative","axis":null},"y":{"field":"l","type":"quantitative","axis":null},"y2":{"field":"h"}}},
{"data":{"name":"candles"},
 "mark":{"type":"bar","width":2,"stroke":"black","strokeWidth":1},
 "encoding":{"x":{"field":"i","type":"quantitative","axis":null},"y":{"field":"o","type":"quantitative","axis":null},"y2":{"field":"c"},
  "fill":{"condition":{"test":"datum.c < datum.o","value":"black"},"value":"white"}}},
{"data":{"name":"levels"},
 "transform":[{"filter":"datum.kind=='last'"}],
 "mark":{"type":"rule","color":"#778899","strokeWidth":1},
 "encoding":{"y":{"field":"p","type":"quantitative","axis":null}}},
{"data":{"name":"levels"},
 "transform":[{"filter":"datum.kind=='red'"}],
 "mark":{"type":"rule","color":"#FF0000","strokeWidth":2},
 "encoding":{"y":{"field":"p","type":"quantitative","axis":null}}},
{"data":{"name":"levels"},
 "mark":{"type":"bar","orient":"horizontal","height":11,"clip":false},
 "encoding":{"y":{"field":"p","type":"quantitative","axis":null},"x":{"datum":177.075,"type":"quantitative","axis":null},"x2":{"datum":187.5},
  "color":{"condition":{"test":"datum.kind=='red'","value":"#FF0000"},"value":"black"}}},
{"data":{"name":"levels"},
 "mark":{"type":"text","align":"left","baseline":"middle","color":"white","font":"Liberation Sans","fontSize":9.5,"clip":false},
 "encoding":{"y":{"field":"p","type":"quantitative","axis":null},"x":{"datum":177.9,"type":"quantitative","axis":null},"text":{"field":"label"}}}
]
}
